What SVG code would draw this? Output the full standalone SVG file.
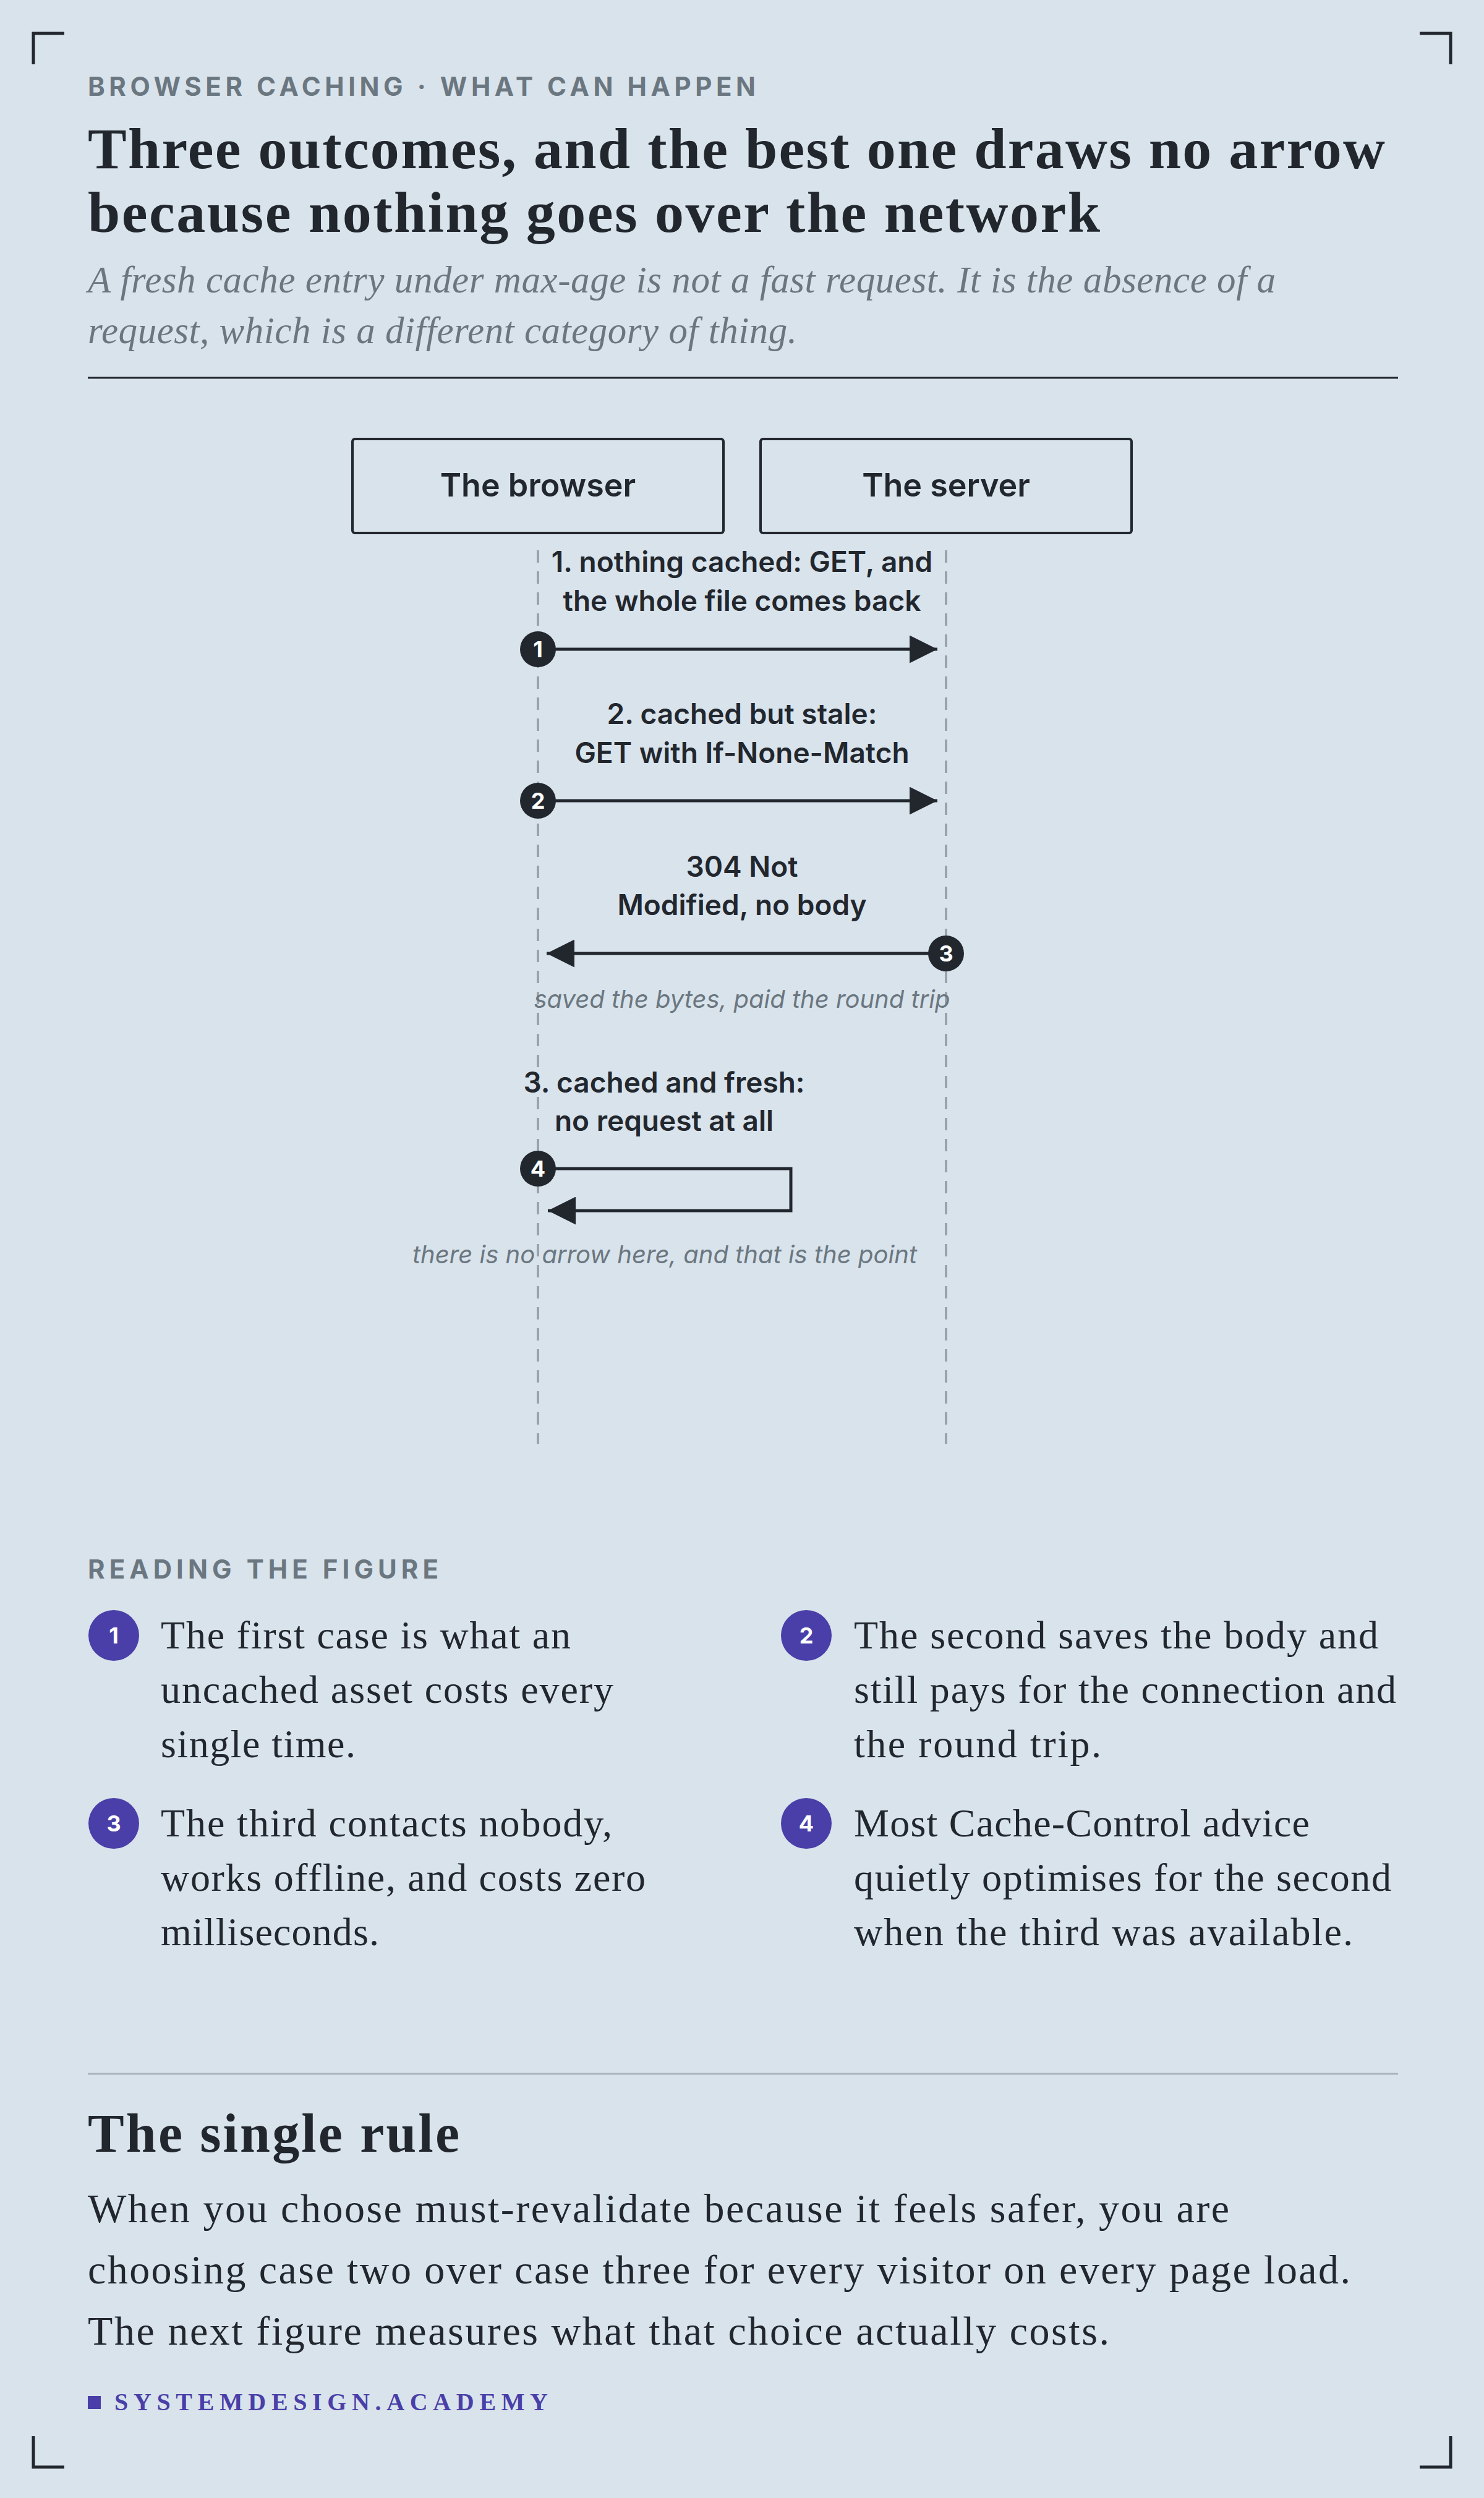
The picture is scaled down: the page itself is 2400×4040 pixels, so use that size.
<svg xmlns="http://www.w3.org/2000/svg" width="2400" height="4040" viewBox="0 0 2400 4040">
<style>
.sans{font-family:Inter,"Liberation Sans",sans-serif}
.serif{font-family:"Liberation Serif",serif}
.lbl{font-family:Inter,"Liberation Sans",sans-serif;font-weight:600;font-size:46px;fill:#22272e;text-anchor:middle}
.note{font-family:Inter,"Liberation Sans",sans-serif;font-style:italic;font-size:40px;fill:#6b7780;text-anchor:middle}
.box{fill:none;stroke:#22272e;stroke-width:4}
.life{stroke:#9aa3ab;stroke-width:4;stroke-dasharray:20 14}
.msg{stroke:#22272e;stroke-width:5;fill:none}
.dot{fill:#22272e}
.dotn{font-family:Inter,"Liberation Sans",sans-serif;font-weight:700;font-size:36px;fill:#fff;text-anchor:middle}
.pdot{fill:#4a3fa8}
.body{font-family:"Liberation Serif",serif;font-size:64px;fill:#22272e}
.corner{stroke:#22272e;stroke-width:5;fill:none}
</style>
<defs>
<marker id="ah" viewBox="0 0 10 10" refX="10" refY="5" markerWidth="9" markerHeight="9" markerUnits="strokeWidth" orient="auto"><path d="M0,0 L10,5 L0,10 z" fill="#22272e"/></marker>
</defs>
<rect width="2400" height="4040" fill="#d9e3ec"/>
<g id="corners">
<path class="corner" d="M54,104 V54 H104"/>
<path class="corner" d="M2296,54 H2346 V104"/>
<path class="corner" d="M54,3940 V3990 H104"/>
<path class="corner" d="M2296,3990 H2346 V3940"/>
</g>
<g id="header">
<text x="142" y="155" class="sans" font-size="42" font-weight="700" fill="#6b7780" letter-spacing="5" textLength="1085" lengthAdjust="spacing">BROWSER CACHING · WHAT CAN HAPPEN</text>
<text class="serif" font-size="94" font-weight="700" fill="#22272e"><tspan x="142" y="272" textLength="2098" lengthAdjust="spacing">Three outcomes, and the best one draws no arrow</tspan><tspan x="142" y="375" textLength="1637" lengthAdjust="spacing">because nothing goes over the network</tspan></text>
<text class="serif" font-size="61" font-style="italic" fill="#6b7780"><tspan x="142" y="473" textLength="1921" lengthAdjust="spacing">A fresh cache entry under max-age is not a fast request. It is the absence of a</tspan><tspan x="142" y="555" textLength="1147" lengthAdjust="spacing">request, which is a different category of thing.</tspan></text>
<line x1="142" y1="611" x2="2261" y2="611" stroke="#22272e" stroke-width="3"/>
</g>
<g id="browser">
<rect class="box" x="570" y="710" width="600" height="152" rx="4"/>
<text class="sans" x="870" y="803" font-size="52" font-weight="600" fill="#22272e" text-anchor="middle">The browser</text>
</g>
<g id="server">
<rect class="box" x="1230" y="710" width="600" height="152" rx="4"/>
<text class="sans" x="1530" y="803" font-size="52" font-weight="600" fill="#22272e" text-anchor="middle">The server</text>
</g>
<g id="connectors">
<line class="life" x1="870" y1="890" x2="870" y2="2335"/>
<line class="life" x1="1530" y1="890" x2="1530" y2="2335"/>
<line class="msg" x1="898" y1="1050" x2="1516" y2="1050" marker-end="url(#ah)"/>
<line class="msg" x1="898" y1="1295" x2="1516" y2="1295" marker-end="url(#ah)"/>
<line class="msg" x1="1502" y1="1542" x2="884" y2="1542" marker-end="url(#ah)"/>
<path class="msg" d="M898,1890 H1279 V1958 H886" marker-end="url(#ah)"/>
</g>
<g id="labels">
<text class="lbl"><tspan x="1200" y="925">1. nothing cached: GET, and</tspan><tspan x="1200" y="988">the whole file comes back</tspan></text>
<text class="lbl"><tspan x="1200" y="1171">2. cached but stale:</tspan><tspan x="1200" y="1234">GET with If-None-Match</tspan></text>
<text class="lbl"><tspan x="1200" y="1418">304 Not</tspan><tspan x="1200" y="1480">Modified, no body</tspan></text>
<text class="note" x="1200" y="1630">saved the bytes, paid the round trip</text>
<text class="lbl"><tspan x="1074" y="1767">3. cached and fresh:</tspan><tspan x="1074" y="1829">no request at all</tspan></text>
<text class="note" x="1075" y="2043">there is no arrow here, and that is the point</text>
</g>
<g id="steps">
<circle class="dot" cx="870" cy="1050" r="29"/><text class="dotn" x="870" y="1063">1</text>
<circle class="dot" cx="870" cy="1295" r="29"/><text class="dotn" x="870" y="1308">2</text>
<circle class="dot" cx="1530" cy="1542" r="29"/><text class="dotn" x="1530" y="1555">3</text>
<circle class="dot" cx="870" cy="1890" r="29"/><text class="dotn" x="870" y="1903">4</text>
</g>
<g id="reading">
<text x="142" y="2553" class="sans" font-size="42" font-weight="700" fill="#6b7780" letter-spacing="5" textLength="572" lengthAdjust="spacing">READING THE FIGURE</text>
<circle class="pdot" cx="184" cy="2645" r="41"/><text class="dotn" x="184" y="2658" font-size="40">1</text>
<text class="body"><tspan x="260" y="2666" textLength="663" lengthAdjust="spacing">The first case is what an</tspan><tspan x="260" y="2754" textLength="732" lengthAdjust="spacing">uncached asset costs every</tspan><tspan x="260" y="2842" textLength="315" lengthAdjust="spacing">single time.</tspan></text>
<circle class="pdot" cx="1304" cy="2645" r="41"/><text class="dotn" x="1304" y="2658" font-size="40">2</text>
<text class="body"><tspan x="1381" y="2666" textLength="848" lengthAdjust="spacing">The second saves the body and</tspan><tspan x="1381" y="2754" textLength="877" lengthAdjust="spacing">still pays for the connection and</tspan><tspan x="1381" y="2842" textLength="400" lengthAdjust="spacing">the round trip.</tspan></text>
<circle class="pdot" cx="184" cy="2949" r="41"/><text class="dotn" x="184" y="2962" font-size="40">3</text>
<text class="body"><tspan x="260" y="2970" textLength="730" lengthAdjust="spacing">The third contacts nobody,</tspan><tspan x="260" y="3058" textLength="784" lengthAdjust="spacing">works offline, and costs zero</tspan><tspan x="260" y="3146" textLength="353" lengthAdjust="spacing">milliseconds.</tspan></text>
<circle class="pdot" cx="1304" cy="2949" r="41"/><text class="dotn" x="1304" y="2962" font-size="40">4</text>
<text class="body"><tspan x="1381" y="2970" textLength="737" lengthAdjust="spacing">Most Cache-Control advice</tspan><tspan x="1381" y="3058" textLength="869" lengthAdjust="spacing">quietly optimises for the second</tspan><tspan x="1381" y="3146" textLength="807" lengthAdjust="spacing">when the third was available.</tspan></text>
</g>
<g id="rule">
<line x1="142" y1="3354" x2="2261" y2="3354" stroke="#a9b3bc" stroke-width="3"/>
<text x="142" y="3480" class="serif" font-size="88" font-weight="700" fill="#22272e" textLength="601" lengthAdjust="spacing">The single rule</text>
<text class="serif" font-size="66" fill="#22272e"><tspan x="142" y="3594" textLength="1846" lengthAdjust="spacing">When you choose must-revalidate because it feels safer, you are</tspan><tspan x="142" y="3693" textLength="2042" lengthAdjust="spacing">choosing case two over case three for every visitor on every page load.</tspan><tspan x="142" y="3792" textLength="1652" lengthAdjust="spacing">The next figure measures what that choice actually costs.</tspan></text>
</g>
<g id="footer">
<rect x="142" y="3875" width="21" height="21" fill="#4a3fa8"/>
<text x="185" y="3898" class="serif" font-size="40" font-weight="700" fill="#4a3fa8" letter-spacing="5" textLength="706" lengthAdjust="spacing">SYSTEMDESIGN.ACADEMY</text>
</g>
</svg>
